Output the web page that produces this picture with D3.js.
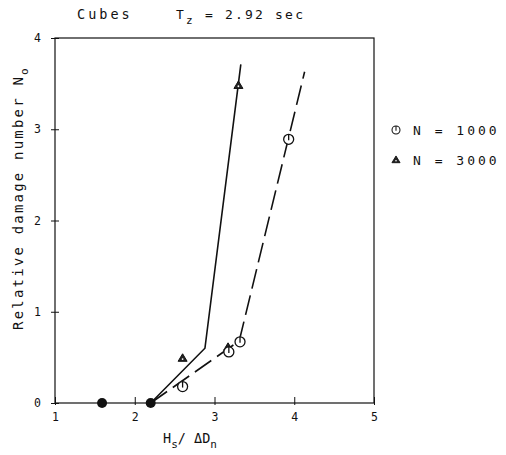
<!DOCTYPE html>
<html lang="en">
<head>
<meta charset="UTF-8">
<title>Cubes damage</title>
<script src="https://d3js.org/d3.v7.min.js"></script>
<style>
  body { margin: 0; background: #fff; }
  text { font-family: "DejaVu Sans Mono", monospace; fill: #111; }
</style>
</head>
<body>
<div id="chart"></div>
<script>
    // data
    var xTicks = [1, 2, 3, 4, 5];
    var yTicks = [0, 1, 2, 3, 4];

    var zeroX = [1.59, 2.20];                 // filled points, no damage
    var n1000X = [2.60, 3.18, 3.32, 3.93];
    var n1000Y = [0.18, 0.56, 0.67, 2.89];
    var n3000X = [2.60, 3.17, 3.30];
    var n3000Y = [0.49, 0.61, 3.48];
    var solidX = [2.20, 2.88, 3.33];           // fitted curve N = 3000
    var solidY = [0.00, 0.60, 3.71];
    var dashX = [2.20, 3.31, 4.13];            // fitted curve N = 1000
    var dashY = [0.00, 0.68, 3.63];

    var margin = {top: 38, right: 132, bottom: 52, left: 55},
        width = 506 - margin.left - margin.right,
        height = 455 - margin.top - margin.bottom;

    var svg = d3.select("#chart")
        .append("svg")
        .attr("width", 506)
        .attr("height", 455);

    var g = svg.append("g")
        .attr("transform", "translate(" + margin.left + "," + margin.top + ")");

    var x = d3.scaleLinear().domain([1, 5]).range([0, width]);
    var y = d3.scaleLinear().domain([0, 4]).range([height, 0]);

    // frame
    g.append("rect")
        .attr("width", width).attr("height", height)
        .attr("fill", "none").attr("stroke", "#111").attr("stroke-width", 1.2);

    // x axis
    var xAxis = g.append("g")
        .attr("transform", "translate(0," + height + ")")
        .call(d3.axisBottom(x).tickValues(xTicks).tickSize(-6).tickPadding(10)
            .tickFormat(d3.format("d")));
    xAxis.select(".domain").remove();
    xAxis.selectAll("line").attr("stroke", "#111").attr("y2", -6).attr("y1", 2);
    xAxis.selectAll("text").attr("font-size", 11.5).attr("font-family", "DejaVu Sans Mono");

    // y axis
    var yAxis = g.append("g")
        .call(d3.axisLeft(y).tickValues(yTicks).tickSize(4).tickPadding(10)
            .tickFormat(d3.format("d")));
    yAxis.select(".domain").remove();
    yAxis.selectAll("line").attr("stroke", "#111").attr("x2", 4).attr("x1", -4);
    yAxis.selectAll("text").attr("font-size", 11.5).attr("font-family", "DejaVu Sans Mono");

    // fitted lines
    var line = d3.line()
        .x(function(d) { return x(d[0]); })
        .y(function(d) { return y(d[1]); });

    g.append("path")
        .datum(d3.zip(solidX, solidY))
        .attr("d", line)
        .attr("fill", "none").attr("stroke", "#111").attr("stroke-width", 1.6);

    g.append("path")
        .datum(d3.zip(dashX, dashY))
        .attr("d", line)
        .attr("fill", "none").attr("stroke", "#111").attr("stroke-width", 1.6)
        .attr("stroke-dasharray", "20,7");

    // filled circles at zero damage
    g.selectAll(".zero")
        .data(zeroX)
        .enter().append("circle")
        .attr("cx", function(d) { return x(d); })
        .attr("cy", y(0))
        .attr("r", 5)
        .attr("fill", "#111");

    // open circle with tick, N = 1000
    function circleMark(sel) {
        sel.append("circle").attr("r", 5)
            .attr("fill", "#fff").attr("stroke", "#111").attr("stroke-width", 1.3);
        sel.append("line").attr("x1", 0).attr("x2", 0).attr("y1", -5).attr("y2", 1)
            .attr("stroke", "#111").attr("stroke-width", 1.3);
    }
    // dark triangle with a small light core, N = 3000
    function triMark(sel) {
        sel.append("path").attr("d", "M0,-4.5L4.5,3L-4.5,3Z")
            .attr("fill", "#222").attr("stroke", "#111").attr("stroke-width", 1);
        sel.append("circle").attr("cy", 0.8).attr("r", 0.9).attr("fill", "#fff");
    }

    g.selectAll(".n3000")
        .data(d3.zip(n3000X, n3000Y))
        .enter().append("g")
        .attr("transform", function(d) { return "translate(" + x(d[0]) + "," + y(d[1]) + ")"; })
        .call(triMark);

    g.selectAll(".n1000")
        .data(d3.zip(n1000X, n1000Y))
        .enter().append("g")
        .attr("transform", function(d) { return "translate(" + x(d[0]) + "," + y(d[1]) + ")"; })
        .call(circleMark);

    // legend
    var leg = svg.append("g").attr("font-size", 13);
    var l1 = leg.append("g").attr("transform", "translate(396,130)");
    l1.append("g").attr("transform", "scale(0.8)").call(circleMark);
    l1.append("text").attr("x", 17).attr("dy", "0.35em")
        .attr("letter-spacing", 3).text("N = 1000");
    var l2 = leg.append("g").attr("transform", "translate(396,160)");
    l2.append("g").attr("transform", "scale(0.9)").call(triMark);
    l2.append("text").attr("x", 17).attr("dy", "0.35em")
        .attr("letter-spacing", 3).text("N = 3000");

    // title
    svg.append("text").attr("x", 77).attr("y", 19)
        .attr("font-size", 13.5).attr("letter-spacing", 3).text("Cubes");
    var t = svg.append("text").attr("x", 176).attr("y", 19)
        .attr("font-size", 13).attr("letter-spacing", 2.2);
    t.append("tspan").text("T");
    t.append("tspan").attr("dy", 5).attr("font-size", 11).text("z");
    t.append("tspan").attr("dy", -5).text(" = 2.92 sec");

    // axis titles
    var xl = svg.append("text").attr("x", 163).attr("y", 443)
        .attr("font-size", 13.5);
    xl.append("tspan").text("H");
    xl.append("tspan").attr("dy", 5).attr("font-size", 11).text("s");
    xl.append("tspan").attr("dy", -5).text("/ ΔD");
    xl.append("tspan").attr("dy", 5).attr("font-size", 11).text("n");

    var yl = svg.append("text")
        .attr("transform", "translate(23,330) rotate(-90)")
        .attr("font-size", 14).attr("letter-spacing", 2.2);
    yl.append("tspan").text("Relative damage number N");
    yl.append("tspan").attr("dy", 5).attr("font-size", 11).text("o");
</script>
</body>
</html>
